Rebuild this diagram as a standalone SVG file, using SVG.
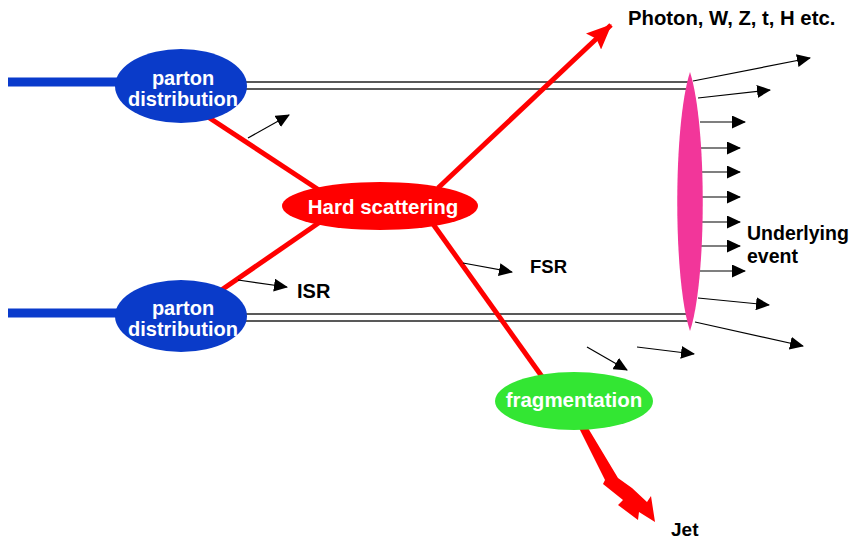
<svg xmlns="http://www.w3.org/2000/svg" width="851" height="539" viewBox="0 0 851 539">
<style>
.lbl{font-family:"Liberation Sans",Arial,sans-serif;font-weight:bold;fill:#000}
.in{font-family:"Liberation Sans",Arial,sans-serif;font-weight:bold;fill:#fff;text-anchor:middle}
.thin{stroke:#000;stroke-width:1.2;fill:none;marker-end:url(#ah)}
.beam{stroke:#222;stroke-width:1.4;fill:none}
.red{stroke:#ff0000;stroke-width:5;fill:none}
.blue{stroke:#0a3bcc;stroke-width:9;fill:none}
</style>
<defs>
<marker id="ah" markerUnits="userSpaceOnUse" markerWidth="15" markerHeight="13" refX="13" refY="6.5" orient="auto">
<path d="M0,0 L14,6.5 L0,13 Z" fill="#000"/>
</marker>
<marker id="rh" markerUnits="userSpaceOnUse" markerWidth="26" markerHeight="22" refX="24" refY="11" orient="auto">
<path d="M0,0 L25,11 L0,22 L4,11 Z" fill="#ff0000"/>
</marker>
</defs>
<rect width="851" height="539" fill="#fff"/>
<g id="connectors">
<line class="blue" x1="8" y1="82" x2="125" y2="82"/>
<line class="blue" x1="8" y1="313" x2="125" y2="313"/>
<line class="beam" x1="240" y1="82" x2="690" y2="82"/>
<line class="beam" x1="240" y1="89" x2="690" y2="89"/>
<line class="beam" x1="240" y1="314" x2="690" y2="314"/>
<line class="beam" x1="240" y1="321" x2="690" y2="321"/>
<line class="red" x1="208" y1="117" x2="322" y2="192"/>
<line class="red" x1="220" y1="291" x2="320" y2="222"/>
<line class="red" x1="438" y1="188" x2="611" y2="25" style="marker-end:url(#rh)"/>
<line class="red" x1="433" y1="224" x2="543" y2="378"/>
<path id="jet-arrow" d="M579,428 L588,428 L618,478 L632,488 L647,502 L651,496 L655,522 L639,512 L638,520 L618,505 L623,500 L603,484 L605,480 Z" fill="#ff0000"/>
<line class="thin" x1="248" y1="138" x2="289" y2="115"/>
<line class="thin" x1="238" y1="280" x2="287" y2="287"/>
<line class="thin" x1="463" y1="263" x2="512" y2="272"/>
<line class="thin" x1="587" y1="347" x2="627" y2="370"/>
<line class="thin" x1="637" y1="347" x2="694" y2="354"/>
<line class="thin" x1="693" y1="81" x2="810" y2="58"/>
<line class="thin" x1="698" y1="98" x2="770" y2="90"/>
<line class="thin" x1="700" y1="122" x2="745" y2="122"/>
<line class="thin" x1="700" y1="148" x2="740" y2="148"/>
<line class="thin" x1="700" y1="172" x2="740" y2="172"/>
<line class="thin" x1="700" y1="197" x2="740" y2="197"/>
<line class="thin" x1="700" y1="222" x2="740" y2="222"/>
<line class="thin" x1="700" y1="246" x2="740" y2="246"/>
<line class="thin" x1="700" y1="271" x2="745" y2="271"/>
<line class="thin" x1="698" y1="298" x2="769" y2="305"/>
<line class="thin" x1="695" y1="322" x2="803" y2="346"/>
</g>
<g id="parton-top">
<ellipse cx="181" cy="86" rx="66" ry="37" fill="#0a3bc9"/>
<text class="in" x="183" y="85" font-size="20">parton</text>
<text class="in" x="183" y="106" font-size="20">distribution</text>
</g>
<g id="parton-bottom">
<ellipse cx="181" cy="316" rx="66" ry="36" fill="#0a3bc9"/>
<text class="in" x="183" y="315" font-size="20">parton</text>
<text class="in" x="183" y="336" font-size="20">distribution</text>
</g>
<g id="hard-scattering">
<ellipse cx="380" cy="206" rx="98" ry="24" fill="#ff0000"/>
<text class="in" x="383" y="214" font-size="20.5">Hard scattering</text>
</g>
<g id="fragmentation">
<ellipse cx="574" cy="401" rx="79" ry="29" fill="#33e633"/>
<text class="in" x="574" y="407" font-size="20.5">fragmentation</text>
</g>
<g id="underlying-event">
<path d="M690,72 C707,125 707,280 690,331 C673,280 673,125 690,72 Z" fill="#f2369a"/>
<text class="lbl" x="747" y="240" font-size="19.5">Underlying</text>
<text class="lbl" x="747" y="263" font-size="19.5">event</text>
</g>
<g id="labels">
<text class="lbl" x="628" y="25" font-size="20.3">Photon, W, Z, t, H etc.</text>
<text class="lbl" x="297" y="298" font-size="20">ISR</text>
<text class="lbl" x="530" y="273" font-size="18.5">FSR</text>
<text class="lbl" x="671" y="536" font-size="19">Jet</text>
</g>
</svg>
